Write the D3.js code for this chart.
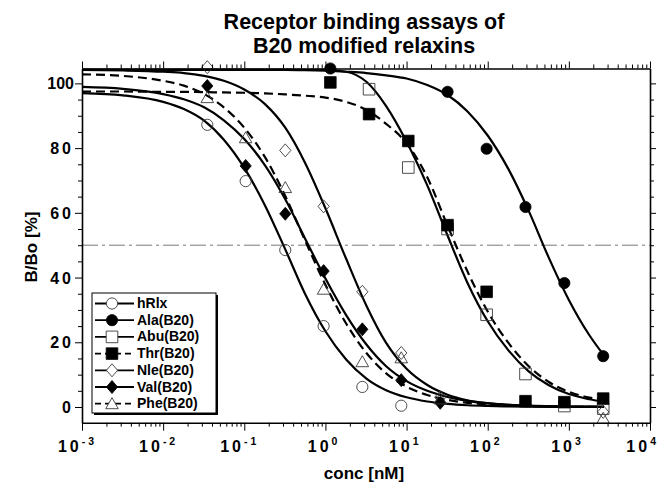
<!DOCTYPE html>
<html>
<head>
<meta charset="utf-8">
<script src="https://cdn.jsdelivr.net/npm/d3@7/dist/d3.min.js"></script>
<style>
  body { margin: 0; background: #fff; }
  text { font-family: "Liberation Sans", Arial, Helvetica, sans-serif; }
</style>
</head>
<body>
<svg id="chart" width="661" height="483"></svg>
<script>

////////// DATA //////////

const titleLines = ["Receptor binding assays of", "B20 modified relaxins"];
const xTitle = "conc [nM]";
const yTitle = "B/Bo [%]";

const xTickExps = [-3, -2, -1, 0, 1, 2, 3, 4];
const yTicks = [0, 20, 40, 60, 80, 100];
const yMinorTicks = [5, 10, 15, 25, 30, 35, 45, 50, 55, 65, 70, 75, 85, 90, 95];

const names = ["hRlx", "Ala(B20)", "Abu(B20)", "Thr(B20)", "Nle(B20)", "Val(B20)", "Phe(B20)"];

// measured points [conc nM, B/Bo %]
const hRlxPts = [[0.035, 87.2], [0.104, 69.8], [0.32, 48.5], [0.95, 25], [2.85, 6.2], [8.6, 0.4]];
const alaPts  = [[1.15, 104.6], [32, 97.4], [97, 79.8], [292, 61.8], [880, 38.3], [2650, 15.7]];
const abuPts  = [[3.45, 98.2], [10.5, 74], [32, 55], [97, 28.5], [292, 10.2], [880, 0.3], [2650, -0.5]];
const thrPts  = [[1.15, 100.3], [3.45, 90.5], [10.5, 82.2], [32, 56.2], [97, 35.6], [292, 1.8], [880, 1.5], [2650, 2.6]];
const nlePts  = [[0.035, 105], [0.32, 79.3], [0.95, 62], [2.85, 35.6], [8.6, 16.7], [26, 3], [2650, -1.5]];
const valPts  = [[0.035, 99.2], [0.104, 74.5], [0.32, 59.7], [0.95, 42], [2.85, 24], [8.6, 8.3], [26, 1.3]];
const phePts  = [[0.035, 95.6], [0.104, 83.2], [0.32, 67.8], [0.95, 36.4], [2.85, 14], [8.6, 15.2], [26, 2.5], [2650, -3.5]];

const fitConc = [0.001, 0.0032, 0.01, 0.018, 0.032, 0.056, 0.1, 0.18, 0.32, 0.56, 1, 1.8, 3.2, 5.6,
                 10, 18, 32, 56, 100, 180, 320, 560, 1000, 1800, 2700];
const hRlxFit = [97.0, 96.3, 94.3, 92.1, 88.5, 82.6, 73.9, 62.3, 48.7, 35.0, 23.4, 14.7, 8.8, 5.2,
                 3.0, 1.7, 0.96, 0.54, 0.31, 0.17, 0.1, 0.05, 0.03, 0.02, 0.01];
const alaFit  = [104.2, 104.2, 104.2, 104.2, 104.2, 104.2, 104.2, 104.2, 104.2, 104.1, 103.9, 103.6, 103.2, 102.5,
                 101.5, 99.5, 96.4, 91.4, 83.9, 73.5, 60.6, 46.4, 33.1, 22.1, 16.0];
const abuFit  = [104.2, 104.2, 104.2, 104.2, 104.2, 104.2, 104.2, 104.2, 104.2, 104.2, 104.2, 103.6, 100.5, 93,
                 82, 68.5, 53, 38.5, 26.5, 17.5, 11, 6.8, 4, 2.4, 1.6];
const thrFit  = [97.5, 97.5, 97.4, 97.4, 97.3, 97.2, 97.1, 96.9, 96.6, 96.2, 95.6, 94.3, 91.8, 87.5,
                 81.5, 71, 56, 42, 29.5, 19.8, 12.6, 7.8, 4.7, 2.9, 2.1];
const nleFit  = [104.2, 104.0, 103.6, 103.2, 102.3, 100.8, 98.1, 93.6, 86.3, 75.5, 61.4, 45.8, 31.3, 19.8,
                 11.8, 6.8, 3.8, 2.1, 1.2, 0.65, 0.35, 0.19, 0.11, 0.06, 0.04];
const valFit  = [98.9, 98.3, 96.7, 95.1, 92.6, 88.6, 82.8, 74.7, 64.2, 52.1, 39.7, 28.4, 19.3, 12.6,
                 8.0, 5.0, 3.1, 1.9, 1.1, 0.7, 0.4, 0.25, 0.15, 0.09, 0.06];
const pheFit  = [102.8, 102.3, 100.8, 99.3, 96.7, 92.6, 86.3, 77.2, 65.2, 51.5, 37.8, 25.8, 16.7, 10.4,
                 6.3, 3.7, 2.2, 1.3, 0.75, 0.43, 0.25, 0.15, 0.08, 0.05, 0.03];

const halfLine = 50;

const series = [
  { name: names[0], pts: hRlxPts, fit: hRlxFit, shape: "circle",   filled: false, dashed: false },
  { name: names[1], pts: alaPts,  fit: alaFit,  shape: "circle",   filled: true,  dashed: false },
  { name: names[2], pts: abuPts,  fit: abuFit,  shape: "square",   filled: false, dashed: false },
  { name: names[3], pts: thrPts,  fit: thrFit,  shape: "square",   filled: true,  dashed: true },
  { name: names[4], pts: nlePts,  fit: nleFit,  shape: "diamond",  filled: false, dashed: false },
  { name: names[5], pts: valPts,  fit: valFit,  shape: "diamond",  filled: true,  dashed: false },
  { name: names[6], pts: phePts,  fit: pheFit,  shape: "triangle", filled: false, dashed: true }
];


////////// SETUP //////////

const svg = d3.select("#chart");

let x = d3.scaleLog()
    .domain([1e-3, 1e4])
    .range([82, 650]);

let y = d3.scaleLinear()
    .domain([-4.85, 104.6])
    .range([422.7, 68.5]);

const plotLeft = x.range()[0], plotRight = x.range()[1];
const plotTop = y.range()[1], plotBottom = y.range()[0];

// marker outline relative to its own centre
function markerPath(shape) {
  let p = d3.path();
  if (shape === "circle") {
    p.arc(0, 0, 5.6, 0, 2 * Math.PI);
  } else if (shape === "square") {
    p.rect(-5.8, -5.8, 11.6, 11.6);
  } else if (shape === "diamond") {
    p.moveTo(0, -6.5); p.lineTo(5.6, 0); p.lineTo(0, 6.5); p.lineTo(-5.6, 0); p.closePath();
  } else {
    p.moveTo(0, -6); p.lineTo(6.3, 5); p.lineTo(-6.3, 5); p.closePath();
  }
  return p.toString();
}

function styleMarker(sel, s) {
  sel.attr("d", markerPath(s.shape))
    .attr("fill", s.filled ? "#000" : "none")
    .attr("stroke", s.filled ? "#000" : "#3a3a3a")
    .attr("stroke-width", s.filled ? 0.8 : 0.9);
}


////////// TITLES //////////

svg.append("g")
    .selectAll("text")
    .data(titleLines)
    .enter()
    .append("text")
    .attr("x", 364)
    .attr("y", 29)
    .attr("dy", (d, i) => i * 24)
    .attr("text-anchor", "middle")
    .attr("font-size", 21.5)
    .attr("font-weight", "bold")
    .text(d => d);

svg.append("text")
    .attr("x", 364)
    .attr("y", 479)
    .attr("text-anchor", "middle")
    .attr("font-size", 17)
    .attr("font-weight", "bold")
    .text(xTitle);

svg.append("text")
    .attr("transform", "translate(37," + 247 + ") rotate(-90)")
    .attr("text-anchor", "middle")
    .attr("font-size", 17)
    .attr("font-weight", "bold")
    .text(yTitle);


////////// 50% LINE //////////

svg.append("line")
    .attr("x1", plotLeft)
    .attr("x2", plotRight)
    .attr("y1", y(halfLine))
    .attr("y2", y(halfLine))
    .attr("stroke", "#555")
    .attr("stroke-width", 0.8)
    .attr("stroke-dasharray", "16,4,3,4");


////////// CURVES //////////

let line = d3.line()
    .x(d => x(d[0]))
    .y(d => y(d[1]))
    .curve(d3.curveMonotoneX);

svg.append("g")
    .attr("class", "curves")
    .selectAll("path")
    .data(series)
    .enter()
    .append("path")
    .attr("d", s => line(fitConc.map((c, i) => [c, s.fit[i]])))
    .attr("fill", "none")
    .attr("stroke", "#000")
    .attr("stroke-width", 2.2)
    .attr("stroke-dasharray", s => s.dashed ? "9,5" : null);


////////// POINTS //////////

series.forEach(s => {
  svg.append("g")
      .selectAll("path")
      .data(s.pts)
      .enter()
      .append("path")
      .attr("transform", d => "translate(" + x(d[0]) + "," + y(d[1]) + ")")
      .call(styleMarker, s);
});


////////// AXES //////////

const majors = xTickExps.map(e => Math.pow(10, e));
let minors = [];
xTickExps.slice(0, -1).forEach(e => {
  d3.range(2, 10).forEach(k => minors.push(k * Math.pow(10, e)));
});

function axisStyle(g) {
  g.select(".domain").attr("stroke-width", 1.6);
  g.selectAll(".tick line").attr("stroke-width", 1);
}

// bottom
svg.append("g").attr("transform", "translate(0," + plotBottom + ")")
    .call(d3.axisBottom(x).tickValues(majors).tickSize(8).tickSizeOuter(0).tickFormat(""))
    .call(axisStyle);
svg.append("g").attr("transform", "translate(0," + plotBottom + ")")
    .call(d3.axisBottom(x).tickValues(minors).tickSize(4).tickSizeOuter(0).tickFormat(""))
    .call(g => g.select(".domain").remove());

// top
svg.append("g").attr("transform", "translate(0," + plotTop + ")")
    .call(d3.axisTop(x).tickValues(majors).tickSize(7).tickSizeOuter(0).tickFormat(""))
    .call(axisStyle);
svg.append("g").attr("transform", "translate(0," + plotTop + ")")
    .call(d3.axisTop(x).tickValues(minors).tickSize(4).tickSizeOuter(0).tickFormat(""))
    .call(g => g.select(".domain").remove());

// left
svg.append("g").attr("transform", "translate(" + plotLeft + ",0)")
    .call(d3.axisLeft(y).tickValues(yTicks).tickSize(7).tickSizeOuter(0).tickFormat(""))
    .call(axisStyle);
svg.append("g").attr("transform", "translate(" + plotLeft + ",0)")
    .call(d3.axisLeft(y).tickValues(yMinorTicks).tickSize(4).tickSizeOuter(0).tickFormat(""))
    .call(g => g.select(".domain").remove());

// right
svg.append("g").attr("transform", "translate(" + plotRight + ",0)")
    .call(d3.axisRight(y).tickValues(yTicks).tickSize(6).tickSizeOuter(0).tickFormat(""))
    .call(axisStyle);
svg.append("g").attr("transform", "translate(" + plotRight + ",0)")
    .call(d3.axisRight(y).tickValues(yMinorTicks).tickSize(4).tickSizeOuter(0).tickFormat(""))
    .call(g => g.select(".domain").remove());

svg.selectAll(".domain").attr("stroke", "#000");

// y tick labels
svg.append("g")
    .selectAll("text")
    .data(yTicks)
    .enter()
    .append("text")
    .attr("x", 74)
    .attr("y", d => y(d) + 6)
    .attr("text-anchor", "end")
    .attr("font-size", 16)
    .attr("font-weight", "bold")
    .attr("letter-spacing", d => d === 100 ? 0 : 3)
    .text(d => d);

// x tick labels: 10 with superscript exponent, right edge kept inside the page
let xl = svg.append("g")
    .selectAll("text")
    .data(xTickExps)
    .enter()
    .append("text")
    .attr("x", d => Math.min(x(Math.pow(10, d)) + 12, 656))
    .attr("y", 452)
    .attr("text-anchor", "end")
    .attr("font-size", 16)
    .attr("font-weight", "bold");

xl.append("tspan").attr("letter-spacing", 3).text("10");
xl.append("tspan")
    .attr("dy", -7)
    .attr("font-size", 10.5)
    .text(d => d < 0 ? "- " + (-d) : d);


////////// LEGEND //////////

let legend = svg.append("g")
    .attr("class", "legend")
    .attr("transform", "translate(92,293)");

legend.append("rect")
    .attr("x", 2).attr("y", 2)
    .attr("width", 124).attr("height", 120)
    .attr("fill", "#000");
legend.append("rect")
    .attr("width", 124).attr("height", 120)
    .attr("fill", "#fff")
    .attr("stroke", "#000")
    .attr("stroke-width", 1);

let rows = legend.selectAll(".row")
    .data(series)
    .enter()
    .append("g")
    .attr("class", "row")
    .attr("transform", (d, i) => "translate(0," + (10.5 + i * 16.7) + ")");

rows.append("line")
    .attr("x1", 3).attr("x2", 42)
    .attr("stroke", "#000")
    .attr("stroke-width", 1.8)
    .attr("stroke-dasharray", s => s.dashed ? "6,4" : null);

rows.each(function(s) {
  d3.select(this).append("path")
      .attr("transform", "translate(20,0)")
      .call(styleMarker, s);
  if (!s.filled) d3.select(this).select("path").attr("fill", "#fff");
});

rows.append("text")
    .attr("x", 45)
    .attr("y", 4.5)
    .attr("font-family", "'Liberation Mono', 'Courier New', monospace")
    .attr("font-size", 14)
    .attr("font-weight", "bold")
    .text(s => s.name);

</script>
</body>
</html>
